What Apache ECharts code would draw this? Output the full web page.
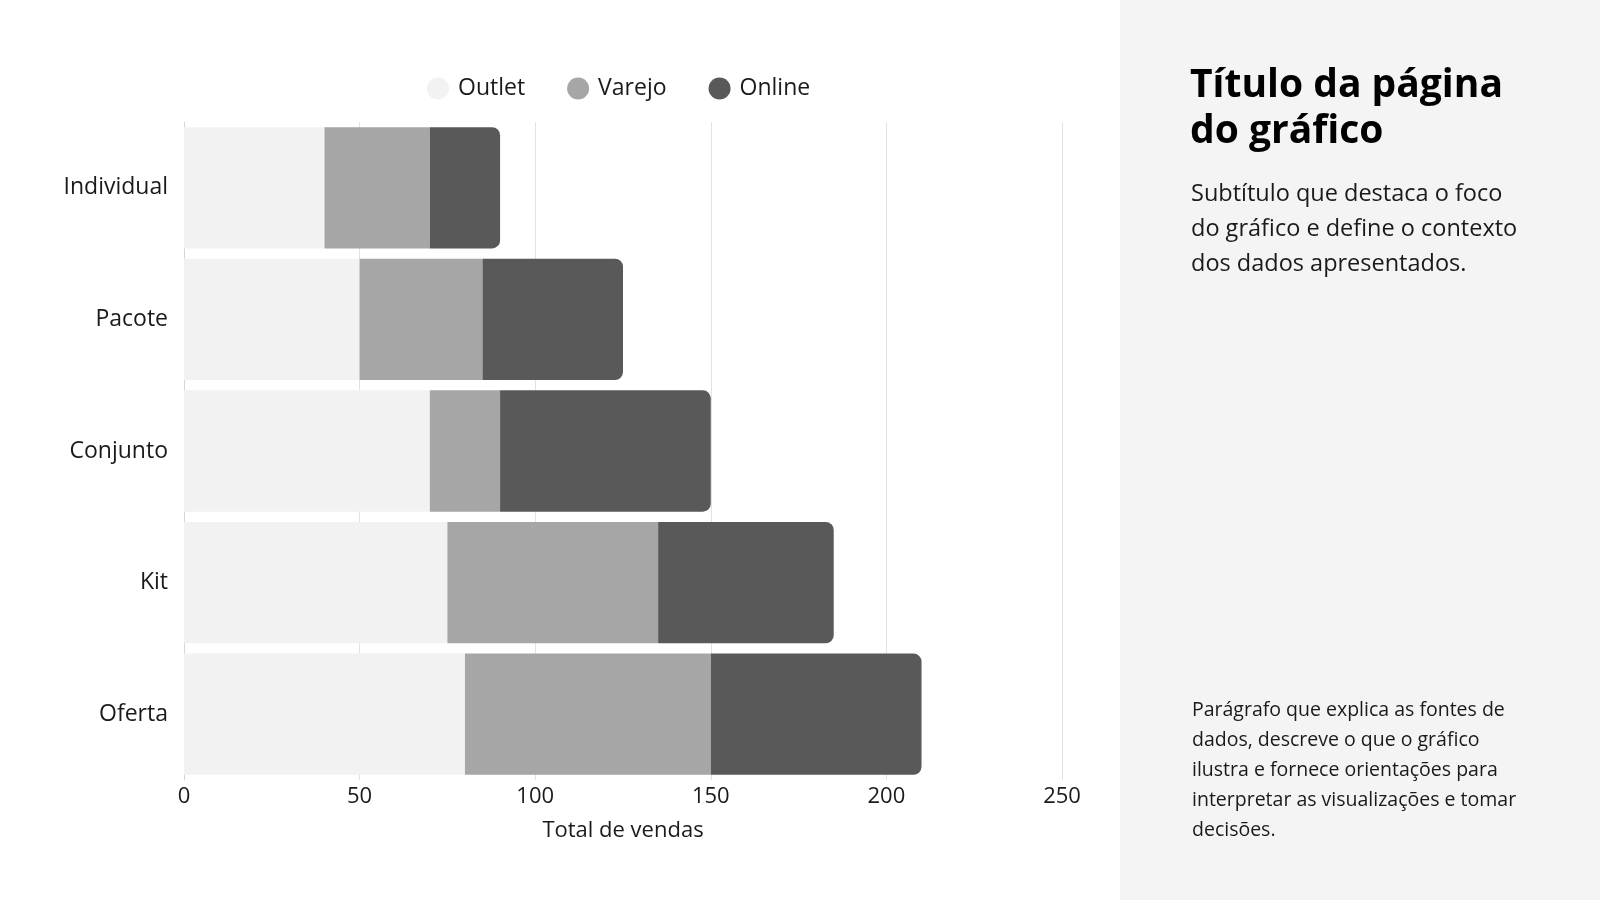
<!DOCTYPE html>
<html>
<head>
<meta charset="utf-8">
<title>Total de vendas</title>
<script src="https://cdn.jsdelivr.net/npm/echarts@6/dist/echarts.min.js"></script>
<style>
  html, body { margin: 0; padding: 0; background: #ffffff; }
  #chartWrap { width: 1600px; height: 900px; }
</style>
</head>
<body>
<div id="chartWrap"></div>
<script>
var categories = ["Individual", "Pacote", "Conjunto", "Kit", "Oferta"];
var outletData = [40, 50, 70, 75, 80];
var varejoData = [30, 35, 20, 60, 70];
var onlineData = [20, 40, 60, 50, 60];
var xTicks = [0, 50, 100, 150, 200, 250];

var colors = ['#f2f2f2', '#a6a6a6', '#595959'];
var labelFont = '"Open Sans"';
var panelFont = '"Open Sans"';

var chart = echarts.init(document.getElementById('chartWrap'));

chart.setOption({
  animation: false,
  backgroundColor: '#ffffff',
  legend: {
    left: 422,
    top: 72,
    icon: 'circle',
    itemWidth: 22,
    itemHeight: 22,
    itemGap: 42,
    textStyle: { fontFamily: labelFont, fontSize: 23, color: '#1a1a1a', padding: [0, 0, 0, 4] },
    data: ['Outlet', 'Varejo', 'Online']
  },
  grid: {
    left: 184,
    right: 538,
    top: 122,
    bottom: 120,
    containLabel: false
  },
  xAxis: {
    type: 'value',
    min: xTicks[0],
    max: xTicks[xTicks.length - 1],
    interval: 50,
    name: 'Total de vendas',
    nameLocation: 'middle',
    nameGap: 40,
    nameTextStyle: { fontFamily: labelFont, fontSize: 22, color: '#1a1a1a' },
    axisLine: { show: false },
    axisTick: { show: false },
    axisLabel: { fontFamily: labelFont, fontSize: 22, color: '#1a1a1a', margin: 6 },
    splitLine: { show: true, lineStyle: { color: '#e2e2e2', width: 1 } }
  },
  yAxis: {
    type: 'category',
    inverse: true,
    data: categories,
    axisLine: { show: true, lineStyle: { color: '#d6d6d6' } },
    axisTick: { show: false },
    axisLabel: { fontFamily: labelFont, fontSize: 23, color: '#1a1a1a', margin: 16 },
    splitLine: { show: false }
  },
  series: [{
    name: 'Outlet',
    type: 'bar',
    stack: 'total',
    barCategoryGap: '7.8%',
    itemStyle: { color: colors[0] },
    data: outletData
  }, {
    name: 'Varejo',
    type: 'bar',
    stack: 'total',
    itemStyle: { color: colors[1] },
    data: varejoData
  }, {
    name: 'Online',
    type: 'bar',
    stack: 'total',
    itemStyle: { color: colors[2], borderRadius: [0, 8, 8, 0] },
    data: onlineData
  }],
  graphic: [{
    type: 'rect',
    shape: { x: 1120, y: 0, width: 480, height: 900 },
    style: { fill: '#f4f4f4' },
    z: -1
  }, {
    type: 'text',
    x: 1190,
    y: 63,
    style: {
      text: 'Título da página\ndo gráfico',
      font: 'bold 39px ' + panelFont,
      lineHeight: 46,
      fill: '#000000'
    }
  }, {
    type: 'text',
    x: 1191,
    y: 177,
    style: {
      text: 'Subtítulo que destaca o foco\ndo gráfico e define o contexto\ndos dados apresentados.',
      font: '23.5px ' + panelFont,
      lineHeight: 35,
      fill: '#1a1a1a'
    }
  }, {
    type: 'text',
    x: 1192,
    y: 695,
    style: {
      text: 'Parágrafo que explica as fontes de\ndados, descreve o que o gráfico\nilustra e fornece orientações para\ninterpretar as visualizações e tomar\ndecisões.',
      font: '19.5px ' + panelFont,
      lineHeight: 30,
      fill: '#1a1a1a'
    }
  }]
});
</script>
</body>
</html>
